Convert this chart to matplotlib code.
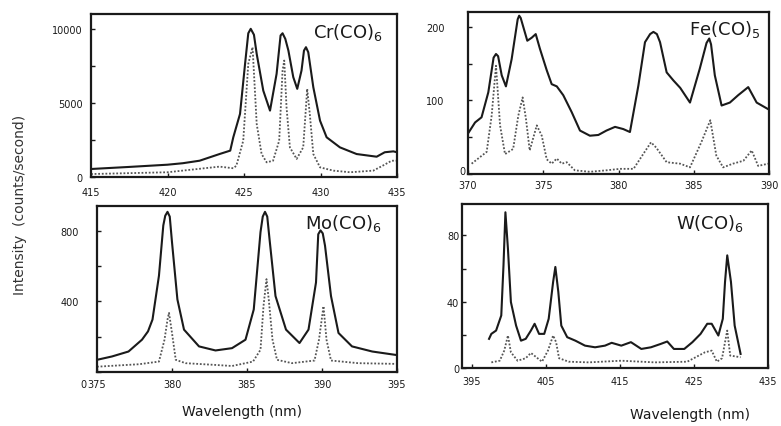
import numpy as np
import matplotlib.pyplot as plt
from matplotlib.ticker import MultipleLocator

# Cr(CO)6 panel
cr_wl = [415.0, 417.5, 420.0, 421.0, 422.1, 423.4, 424.1, 424.3, 424.74, 425.07, 425.28, 425.44,
         425.65, 425.83, 426.26, 426.7, 427.13, 427.39, 427.52, 427.7, 427.9, 428.22, 428.48,
         428.76, 428.92, 429.05, 429.2, 429.53, 429.97, 430.4, 431.27, 432.36, 433.67, 434.2,
         434.76, 435.0]
cr_solid = [540, 680, 830, 930, 1100, 1550, 1780, 2680, 4260, 7640, 9700, 10000,
            9600, 8310, 5830, 4480, 6960, 9550, 9700, 9320, 8540, 6740, 5950,
            7190, 8530, 8760, 8420, 6060, 3800, 2680, 2000, 1550, 1370, 1670,
            1730, 1670]
cr_dot_wl = [415.0, 420.0, 423.4, 424.3, 424.5, 424.95, 425.28, 425.56, 425.83, 426.15, 426.48,
             426.9, 427.3, 427.52, 427.63, 427.78, 428.0, 428.44, 428.87, 429.05, 429.13, 429.3,
             429.53, 429.97, 430.84, 431.93, 433.45, 434.06, 434.65, 435.0]
cr_dot = [200, 320, 700, 590, 760, 2450, 7640, 8760, 3580, 1550, 990,
          1100, 2450, 7180, 7860, 4710, 2000, 1220, 2000, 4710, 5950, 4260,
          1550, 650, 430, 320, 430, 760, 1100, 1100]

# Fe(CO)5 panel
fe_wl = [370.0, 370.47, 370.9, 371.35, 371.7, 371.86, 372.0, 372.24, 372.52, 372.9, 373.3, 373.4,
         373.5, 373.67, 373.94, 374.23, 374.5, 374.78, 375.23, 375.56, 375.9, 376.33, 376.89,
         377.44, 378.1, 378.66, 379.2, 379.77, 380.32, 380.76, 381.32, 381.76, 382.1, 382.32,
         382.55, 382.76, 383.2, 383.65, 384.1, 384.75, 385.4, 385.85, 386.03, 386.15, 386.4,
         386.85, 387.4, 387.95, 388.62, 389.18, 389.95]
fe_solid = [55, 70, 77, 111, 158, 163, 160, 134, 119, 156, 210, 215,
            212, 200, 181, 185, 190, 170, 141, 122, 119, 107, 84,
            59, 52, 53, 59, 64, 61, 57, 120, 179, 190, 193,
            190, 179, 138, 127, 117, 97, 143, 178, 184, 176, 134,
            93, 97, 107, 118, 97, 88]
fe_dot_wl = [370.24, 370.8, 371.24, 371.57, 371.86, 372.13, 372.46, 373.0, 373.34, 373.63, 373.85,
             374.1, 374.57, 374.9, 375.23, 375.56, 375.9, 376.23, 376.56, 377.1, 378.1, 379.2,
             380.1, 381.0, 381.64, 382.16, 382.5, 383.2, 384.1, 384.75, 385.5, 386.1, 386.5,
             386.95, 387.6, 388.3, 388.85, 389.28, 389.95]
fe_dot = [14, 23, 30, 79, 147, 66, 27, 34, 79, 104, 75,
          32, 66, 52, 20, 14, 21, 14, 16, 5, 3, 5,
          7, 7, 27, 43, 36, 16, 14, 9, 43, 73, 25,
          9, 14, 18, 32, 11, 14]

# Mo(CO)6 panel
mo_wl = [375.0, 376.0, 377.1, 378.0, 378.4, 378.7, 379.13, 379.42, 379.55, 379.7, 379.85, 380.0,
         380.36, 380.8, 381.8, 382.9, 384.0, 384.9, 385.45, 385.9, 386.05, 386.2, 386.35, 386.5,
         386.9, 387.6, 388.5, 389.1, 389.6, 389.75, 389.9, 390.05, 390.2, 390.6, 391.1, 392.0,
         393.35, 394.9]
mo_solid = [69, 88, 116, 183, 230, 297, 545, 830, 885, 907, 880, 735,
            411, 240, 145, 122, 135, 183, 354, 792, 880, 907, 880, 754,
            430, 240, 164, 240, 507, 780, 802, 785, 716, 430, 221, 145,
            116, 97]
mo_dot_wl = [375.0, 376.2, 377.8, 379.13, 379.5, 379.7, 379.8, 380.0, 380.25, 380.9, 382.9, 384.0,
             385.4, 385.9, 386.1, 386.3, 386.45, 386.7, 387.0, 388.0, 389.5, 389.8, 390.1, 390.3,
             390.6, 392.4, 394.9]
mo_dot = [30, 36, 44, 59, 183, 297, 335, 221, 69, 50, 40, 34,
          59, 126, 373, 526, 411, 183, 69, 50, 65, 183, 373, 183,
          65, 50, 46]

# W(CO)6 panel
w_wl = [397.35, 397.66, 398.3, 399.0, 399.3, 399.56, 399.9, 400.3, 401.0, 401.66, 402.3, 403.0,
        403.5, 404.1, 404.8, 405.4, 406.0, 406.3, 406.7, 407.1, 407.9, 409.0, 410.3, 411.66,
        413.0, 413.9, 415.2, 416.5, 417.9, 419.2, 420.5, 421.4, 422.3, 423.7, 424.8, 425.9,
        426.8, 427.4, 428.3, 428.9, 429.2, 429.5, 430.0, 430.5, 431.3]
w_solid = [17.6, 20.6, 22.6, 31.7, 62, 94, 72, 39.8, 25.6, 16.5, 17.6, 22.6,
           26.7, 20.6, 20.6, 29.7, 52, 61, 45.9, 25.6, 18.6, 16.5, 13.5, 12.5,
           13.5, 15.2, 13.5, 15.6, 11.5, 12.5, 14.5, 16, 11.5, 11.5, 15.6, 20.6,
           26.7, 26.7, 19.6, 29.7, 52, 68, 52, 25.6, 8.5]
w_dot_wl = [397.66, 398.8, 399.4, 399.9, 400.3, 401.2, 402.3, 403.0, 403.9, 404.5, 405.3, 406.0,
            406.4, 406.8, 408.1, 410.8, 415.2, 419.7, 424.1, 426.5, 427.4, 428.1, 428.8, 429.2,
            429.5, 429.9, 431.3]
w_dot = [3.4, 4.4, 10.5, 19.6, 9.5, 4.4, 5.9, 9.1, 5.9, 3.8, 10.5, 19.6,
         15.6, 5.9, 3.8, 3.4, 4.4, 3.4, 3.8, 9.5, 10.5, 3.8, 5.9, 15.6,
         22.6, 7.5, 6.5]

ink = '#1a1a1a'
dotc = '#555555'

fig = plt.figure(figsize=(7.81, 4.27), dpi=100)
W, H = 781.0, 427.0


def box(l, r, t, b):
    return [l / W, 1 - b / H, (r - l) / W, (b - t) / H]


panels = [
    dict(rect=box(91, 397, 15, 178), wl=cr_wl, s=cr_solid, dwl=cr_dot_wl, d=cr_dot,
         xlim=(415, 435), xt=[415, 420, 425, 430, 435], ylim=(0, 11000), yt=[0, 5000, 10000],
         ym=2500, name='Cr(CO)$_6$', tpos=(0.955, 0.96), ypad=6, xpad=7),
    dict(rect=box(468, 769, 13, 175), wl=fe_wl, s=fe_solid, dwl=fe_dot_wl, d=fe_dot,
         xlim=(370, 390), xt=[370, 375, 380, 385, 390], ylim=(0, 220), yt=[100, 200],
         ym=50, name='Fe(CO)$_5$', tpos=(0.97, 0.96), ypad=17, xpad=4),
    dict(rect=box(97, 397, 207, 373), wl=mo_wl, s=mo_solid, dwl=mo_dot_wl, d=mo_dot,
         xlim=(375, 395), xt=[375, 380, 385, 390, 395], ylim=(0, 940), yt=[400, 800],
         ym=200, name='Mo(CO)$_6$', tpos=(0.95, 0.965), ypad=13, xpad=5),
    dict(rect=box(462, 768, 205, 369), wl=w_wl, s=w_solid, dwl=w_dot_wl, d=w_dot,
         xlim=(393.7, 435), xt=[395, 405, 415, 425, 435], ylim=(0, 99), yt=[0, 40, 80],
         ym=20, name='W(CO)$_6$', tpos=(0.92, 0.95), ypad=2, xpad=6),
]

axes = []
for p in panels:
    ax = fig.add_axes(p['rect'])
    ax.plot(p['dwl'], p['d'], color=dotc, lw=1.3, ls=(0, (1, 1)))
    ax.plot(p['wl'], p['s'], color=ink, lw=1.5)
    ax.set_xlim(*p['xlim'])
    ax.set_ylim(*p['ylim'])
    ax.set_xticks(p['xt'])
    ax.set_yticks(p['yt'])
    ax.yaxis.set_minor_locator(MultipleLocator(p['ym']))
    ax.tick_params(which='both', direction='in', length=3, width=1, colors=ink,
                   labelsize=7, top=False, right=False)
    ax.tick_params(axis='y', pad=p['ypad'])
    ax.tick_params(axis='x', pad=p['xpad'])
    for sp in ax.spines.values():
        sp.set_linewidth(1.6)
        sp.set_color(ink)
    ax.text(p['tpos'][0], p['tpos'][1], p['name'], transform=ax.transAxes,
            ha='right', va='top', fontsize=13, color=ink)
    axes.append(ax)

# zeros that sit away from the usual tick label place
axes[1].text(-0.008, 0.02, '0', transform=axes[1].transAxes, ha='right', va='center',
             fontsize=7, color=ink)
axes[2].text(-0.035, -0.045, '0', transform=axes[2].transAxes, ha='right', va='top',
             fontsize=7, color=ink)

fig.text(20 / W, 1 - 205 / H, 'Intensity  (counts/second)', rotation=90,
         ha='center', va='center', fontsize=10, color='#333333')
fig.text(242 / W, 1 - 412 / H, 'Wavelength (nm)', ha='center', va='center',
         fontsize=10, color=ink)
fig.text(690 / W, 1 - 415 / H, 'Wavelength (nm)', ha='center', va='center',
         fontsize=10, color=ink)

fig.savefig('out.png', dpi=100)
